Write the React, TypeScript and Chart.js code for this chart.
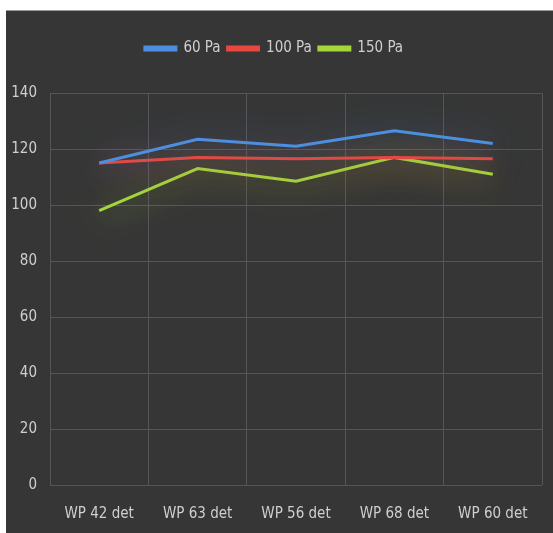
import React, { useEffect, useRef } from "react";
import { Chart, registerables } from "chart.js";

Chart.register(...registerables);

const categories = ["WP 42 det", "WP 63 det", "WP 56 det", "WP 68 det", "WP 60 det"];
const seriesNames = ["60 Pa", "100 Pa", "150 Pa"];
const pa60 = [115, 123.5, 121, 126.5, 122];
const pa100 = [115, 117, 116.5, 117, 116.5];
const pa150 = [98, 113, 108.5, 117, 111];
const seriesColors = ["#4d8fdf", "#e8473d", "#a4d63b"];
const glowColors = ["rgba(77,143,223,0.9)", "rgba(232,71,61,0.9)", "rgba(164,214,59,0.85)"];
const yMin = 0;
const yMax = 140;
const yStep = 20;

const FONT = "'Liberation Sans Narrow', 'DejaVu Sans Condensed', 'Roboto Condensed', 'Liberation Sans', sans-serif";
const TEXT = "#cfcfcf";
const GRID = "#58545c";

const glowPlugin = {
  id: "glow",
  beforeInit(chart: any) {
    const legend = chart.legend;
    if (legend) {
      const fit = legend.fit;
      legend.fit = function () {
        fit.call(this);
        this.height += 27;
      };
    }
  },
  beforeDatasetDraw(chart: any, args: any) {
    const ctx = chart.ctx;
    ctx.save();
    ctx.shadowColor = glowColors[args.index];
    ctx.shadowBlur = 32;
    ctx.shadowOffsetX = 0;
    ctx.shadowOffsetY = 4;
  },
  afterDatasetDraw(chart: any) {
    chart.ctx.restore();
  },
};

export default function App() {
  const ref = useRef<HTMLCanvasElement | null>(null);

  useEffect(() => {
    document.body.style.margin = "0";
    const canvas = ref.current;
    if (!canvas) return;
    const data = [pa60, pa100, pa150];
    const chart = new Chart(canvas, {
      type: "line",
      data: {
        labels: categories,
        datasets: seriesNames.map((name, i) => ({
          label: name,
          data: data[i],
          borderColor: seriesColors[i],
          backgroundColor: seriesColors[i],
          borderWidth: 3,
          pointRadius: 0,
          tension: 0,
          fill: false,
        })),
      },
      options: {
        responsive: false,
        animation: false,
        layout: { padding: { top: 23, right: 11, left: 0, bottom: 0 } },
        plugins: {
          legend: {
            position: "top",
            labels: {
              color: TEXT,
              font: { family: FONT, size: 15 },
              boxWidth: 31,
              boxHeight: 3,
              padding: 7,
            },
          },
          tooltip: { enabled: false },
        },
        scales: {
          x: {
            offset: true,
            grid: { color: GRID, offset: true, drawTicks: false, lineWidth: 1 },
            border: { display: false },
            ticks: { color: TEXT, font: { family: FONT, size: 15 }, padding: 20, maxRotation: 0 },
            afterFit(scale: any) {
              scale.height = 48;
            },
          },
          y: {
            min: yMin,
            max: yMax,
            grid: { color: GRID, drawTicks: false, lineWidth: 1 },
            border: { display: false },
            ticks: { color: TEXT, font: { family: FONT, size: 15 }, stepSize: yStep, padding: 13 },
            afterFit(scale: any) {
              scale.width = 44;
            },
          },
        },
      },
      plugins: [glowPlugin],
    });
    return () => chart.destroy();
  }, []);

  return (
    <div style={{ width: 553, height: 533, background: "#ffffff", position: "relative", overflow: "hidden" }}>
      <div
        style={{
          position: "absolute",
          left: 6,
          top: 10,
          width: 547,
          height: 523,
          background: "#363636",
          borderTop: "1px solid #9a9a9a",
          boxSizing: "border-box",
        }}
      >
        <canvas ref={ref} width={547} height={522} style={{ display: "block" }} />
      </div>
    </div>
  );
}
